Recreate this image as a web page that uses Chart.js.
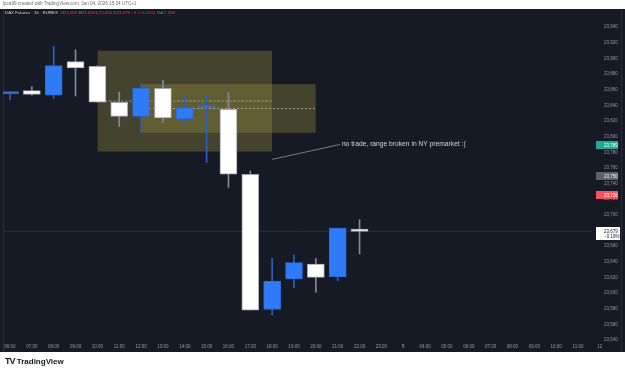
<!DOCTYPE html>
<html><head><meta charset="utf-8">
<script src="https://cdn.jsdelivr.net/npm/chart.js@4"></script>
<style>
html,body{margin:0;padding:0;background:#fff;}
#wrap{position:relative;width:625px;height:370px;overflow:hidden;}
canvas{position:absolute;left:0;top:0;}
.t{position:absolute;white-space:nowrap;font-family:'Liberation Sans',Arial,sans-serif;line-height:1;}
.g{color:#9598a1}.r{color:#f23645}
</style></head><body>
<div id="wrap">
<canvas id="c" width="625" height="370"></canvas>
<div class="t" style="left:3px;top:2px;font-size:4.6px;color:#6a6d78;">lpca99 created with TradingView.com, Jan 04, 2026 15:34 UTC+1</div>
<div class="t" style="left:5px;top:11px;font-size:4.4px;color:#d1d4dc;">DAX Futures · 1h · EUREX&nbsp; <span class="g">O</span><span class="r">23,682</span> <span class="g">H</span><span class="r">23,694</span> <span class="g">L</span><span class="r">23,650</span> <span class="g">C</span><span class="r">23,679</span> <span class="r">−3 (−0.01%)</span> <span class="g">Vol</span> <span class="r">2.35K</span></div>
<div class="t" style="left:5px;top:357px;font-size:8px;font-weight:bold;color:#131722;"><span style="letter-spacing:-1px;font-size:9px">TV</span>&nbsp;TradingView</div>
</div>
<script>
// ---- data ----
const timeLabels = ["06:00","07:00","08:00","09:00","10:00","11:00","12:00","13:00","14:00","15:00","16:00","17:00","18:00","19:00","20:00","21:00","22:00","23:00","5","04:00","05:00","06:00","07:00","08:00","09:00","10:00","11:00","12"];
const opens  = [23855,23859,23853,23896,23890,23844,23826,23862,23823,23837,23835,23752,23579,23618,23637,23621,23682];
const highs  = [23857,23864,23916,23911,23891,23857,23868,23872,23852,23852,23856,23756,23644,23649,23644,23683,23694];
const lows   = [23847,23853,23849,23852,23844,23813,23805,23818,23816,23767,23735,23578,23572,23607,23601,23616,23650];
const closes = [23856,23854,23891,23888,23844,23826,23862,23824,23837,23838,23752,23578,23615,23639,23620,23683,23679];
const boxStart  = [4, 6];
const boxEnd    = [12, 14];
const boxTop    = [23910, 23867];
const boxBottom = [23781, 23805];
const noteFrom = [12, 23771];
const noteTo   = [15.1, 23790];
const noteText = "no trade, range broken in NY premarket :(";
const lastPrice = 23679;
const lastChange = "−0.19%";
const axisLabels = [[23789,"23,789","#22ab94","#fff"],[23750,"23,750","#5d606b","#fff"],[23726,"23,726","#f7525f","#fff"]];

// ---- styles ----
const BLUE = "#2f7bf5", BLUE_W = "#2c5fbf", WHITE = "#ffffff", WHITE_B = "#a3a6af", WHITE_W = "#868993";
const up = opens.map((o,i)=>closes[i] >= o);

const datasets = [];
boxStart.forEach((s,k)=>{
  datasets.push({type:'line', data:[{x:s,y:boxTop[k]},{x:boxEnd[k],y:boxTop[k]}], borderWidth:0, pointRadius:0,
    fill:{target:{value:boxBottom[k]}}, backgroundColor:'rgba(156,146,63,0.35)', order:10});
  const mid = (boxTop[k]+boxBottom[k])/2;
  datasets.push({type:'line', data:[{x:s,y:mid},{x:boxEnd[k],y:mid}], borderWidth:1, borderDash:[2,2],
    borderColor:'rgba(190,190,180,0.75)', pointRadius:0, fill:false, order:6});
});
datasets.push({type:'line', data:[{x:-1,y:lastPrice},{x:28,y:lastPrice}], borderWidth:1, borderColor:'#2f333e', pointRadius:0, fill:false, order:8});
datasets.push({type:'bar', grouped:false, data:opens.map((o,i)=>({x:i,y:[lows[i],highs[i]]})), barThickness:1,
  backgroundColor:up.map(u=>u?BLUE_W:WHITE_W), borderWidth:0, order:3});
datasets.push({type:'bar', grouped:false, data:opens.map((o,i)=>({x:i,y:[o,closes[i]]})), barThickness:17, minBarLength:2,
  backgroundColor:up.map(u=>u?BLUE:WHITE), borderColor:up.map(u=>u?'#2a6be0':WHITE_B), borderWidth:1, borderSkipped:false, order:2});
datasets.push({type:'line', data:[{x:noteFrom[0],y:noteFrom[1]},{x:noteTo[0],y:noteTo[1]}], borderWidth:1, borderColor:'#787b86', pointRadius:0, fill:false, order:0});

const FONT = "'Liberation Sans', Arial, sans-serif";
const deco = {
  id:'deco',
  beforeDraw(ch){
    const c = ch.ctx;
    c.save();
    c.fillStyle = '#fff'; c.fillRect(0,0,625,370);
    c.fillStyle = '#161a25'; c.fillRect(0,9,625,343);
    c.fillStyle = '#2a2e39'; c.fillRect(3,9,1,343); c.fillRect(621,9,1,343);
    c.restore();
  },
  afterDraw(ch){
    const c = ch.ctx, xs = ch.scales.x, ys = ch.scales.y;
    c.save();
    c.font = "6.7px " + FONT; c.fillStyle = '#d1d4dc'; c.textBaseline = 'middle'; c.textAlign = 'left';
    c.fillText(noteText, xs.getPixelForValue(noteTo[0]) + 2, ys.getPixelForValue(noteTo[1]));
    c.font = "4.5px " + FONT; c.fillStyle = '#9598a1'; c.textAlign = 'center';
    c.fillText(timeLabels[27], xs.getPixelForValue(27), 346.5);
    c.font = "4.5px " + FONT; c.textAlign = 'left';
    axisLabels.forEach(([v,txt,bg,fg])=>{
      const y = Math.round(ys.getPixelForValue(v));
      c.fillStyle = bg; c.fillRect(596, y-4, 22, 8);
      c.fillStyle = fg; c.fillText(txt, 604, y+0.5);
    });
    const yl = Math.round(ys.getPixelForValue(lastPrice));
    c.fillStyle = '#ffffff'; c.fillRect(596, yl-4, 24, 13);
    c.fillStyle = '#131722';
    c.fillText(lastPrice.toLocaleString('en-US'), 604, yl+0.5);
    c.fillText(lastChange, 604, yl+6);
    c.restore();
  }
};

new Chart(document.getElementById('c'), {
  type:'bar',
  data:{datasets},
  plugins:[deco],
  options:{
    responsive:false, animation:false, devicePixelRatio:1,
    layout:{padding:{top:10,left:3,right:0,bottom:18}},
    plugins:{legend:{display:false}, tooltip:{enabled:false}},
    scales:{
      x:{type:'linear', min:-0.32, max:26.64, offset:false,
        grid:{display:false, drawTicks:false}, border:{display:false},
        afterBuildTicks(s){ s.ticks = timeLabels.slice(0,27).map((l,i)=>({value:i})); },
        afterFit(s){ s.height = 12; },
        ticks:{autoSkip:false, maxRotation:0, padding:4, color:'#9598a1',
          font:(ctx)=>({family:FONT, size:4.5, weight: (ctx.tick && timeLabels[ctx.tick.value]==='5') ? 'bold':'normal'}),
          callback:(v)=>timeLabels[v]}
      },
      y:{type:'linear', position:'right', min:23540, max:23956,
        grid:{display:false, drawTicks:false}, border:{display:false},
        afterFit(s){ s.width = 33; },
        ticks:{stepSize:20, padding:12, color:'#9598a1', font:{family:FONT, size:4.5},
          callback:(v)=> (v % 20 === 0) ? v.toLocaleString('en-US') : ''}
      }
    }
  }
});
</script>
</body></html>
